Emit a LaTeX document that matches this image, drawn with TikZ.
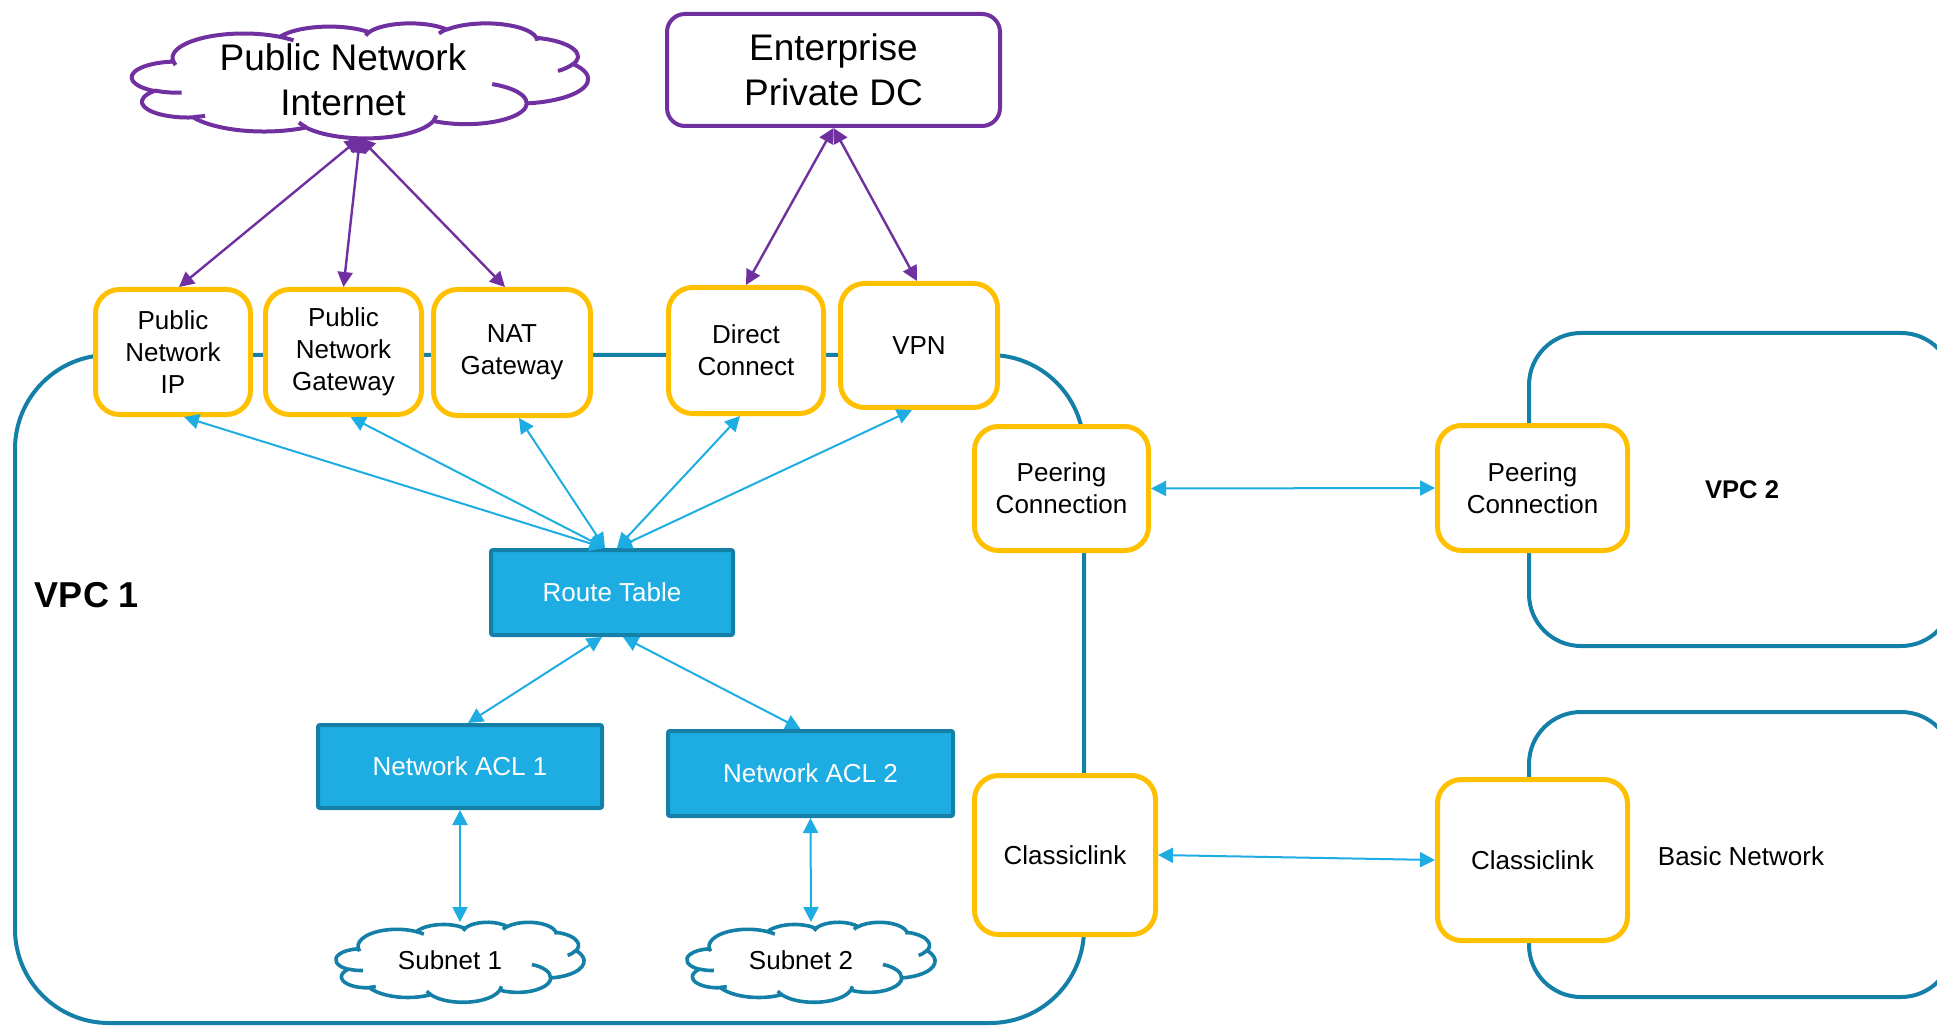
\documentclass[tikz,border=0pt]{standalone}
\usepackage{fontspec}
\setmainfont{Liberation Sans}
\usetikzlibrary{arrows.meta,calc}

\definecolor{vpurple}{RGB}{112,48,160}
\definecolor{vyellow}{RGB}{255,192,0}
\definecolor{vteal}{RGB}{20,128,168}
\definecolor{vblue}{RGB}{30,173,227}

\tikzset{
  gatebox/.style={draw=vyellow, line width=2.5pt, fill=white, rounded corners=12pt,
    align=center, inner sep=0pt, font=\fontsize{13}{16}\selectfont},
  tablebox/.style={draw=vteal, line width=2pt, fill=vblue, text=white, rounded corners=1pt,
    align=center, inner sep=0pt, font=\fontsize{13}{16}\selectfont},
  sitebox/.style={draw=vpurple, line width=2pt, fill=white, rounded corners=9pt,
    align=center, inner sep=0pt, font=\fontsize{18.5}{22.5}\selectfont},
  bigtext/.style={align=center, inner sep=0pt, font=\fontsize{18.5}{22.5}\selectfont},
  smalltext/.style={align=center, inner sep=0pt, font=\fontsize{13}{16}\selectfont},
  netframe/.style={draw=vteal, line width=2pt},
  cloudbox/.style={inner sep=0pt, outer sep=0pt},
  linktip/.tip={Triangle[length=7.5pt,width=7.5pt]},
  bluelink/.style={vblue, line width=1pt, linktip-linktip},
  purplelink/.style={vpurple, line width=1.2pt, linktip-linktip},
  % elliptical arc given by radii, start angle and sweep measured as seen on the ellipse
  earc/.style n args={4}{x radius=#1, y radius=#2,
    start angle={atan2(#1*sin(#3),#2*cos(#3))},
    delta angle={mod(atan2(#1*sin(#3+#4),#2*cos(#3+#4))-atan2(#1*sin(#3),#2*cos(#3))+720,360)}},
}

% cloud outline in a 432 x 432 box: #1,#2 top-left corner, #3 width, #4 height, #5 colour, #6 line width
\newcommand\netcloud[6]{%
  \begin{scope}[shift={(#1,#2)},xscale=#3/432,yscale=#4/432,line join=round]
    \draw[draw=#5, line width=#6, fill=white] (39,143.7)
      arc[earc={67.53}{91.90}{-190.4875}{123.7805}]
      arc[earc={53.33}{72.67}{-144.1024}{89.9452}]
      arc[earc={43.65}{59.45}{-145.8079}{99.7230}]
      arc[earc={48.57}{65.95}{-130.9861}{117.2417}]
      arc[earc={53.33}{72.73}{-78.7089}{109.0269}]
      arc[earc={67.75}{92.20}{-46.2673}{130.2690}]
      arc[earc={57.85}{78.67}{0.6250}{114.0333}]
      arc[earc={67.52}{92.15}{22.4516}{115.1726}]
      arc[earc={77.20}{105.43}{66.2426}{75.7110}]
      arc[earc={43.60}{59.18}{-274.9421}{146.7356}]
      arc[earc={43.45}{59.45}{-246.8285}{152.5189}]
      -- cycle;
    \draw[draw=#5, line width=#6]
      (46.93,261.77) arc[earc={43.45}{59.45}{86.7420}{26.4295}]
      (69.28,348.99) arc[earc={43.60}{59.18}{73.6105}{11.4475}]
      (164.78,390.90) arc[earc={67.52}{92.15}{137.6242}{14.0811}]
      (288.27,347.51) arc[earc={67.52}{92.15}{6.4533}{15.9984}]
      (341.29,229.54) arc[earc={57.85}{78.67}{-70.2924}{70.9174}]
      (417.98,153.54) arc[earc={53.33}{72.73}{30.3180}{27.7515}]
      (383.24,54.26) arc[earc={48.57}{65.95}{-13.7443}{14.8512}]
      (290.78,39.52) arc[earc={48.57}{65.95}{-149.1815}{18.1874}]
      (221.41,47.20) arc[earc={43.65}{59.45}{-163.4943}{17.6941}]
      (140.00,51.92) arc[earc={67.53}{91.90}{-66.7070}{12.3194}]
      (41.27,157.89) arc[earc={67.53}{91.90}{157.6544}{11.8582}];
  \end{scope}}

\begin{document}
\begin{tikzpicture}[x=0.5pt,y=-0.5pt]
  \useasboundingbox (0,0) rectangle (1937,1026);
  \clip (0,0) rectangle (1937,1026);

  % network frames
  \draw[netframe, rounded corners=47pt] (15,355) rectangle (1084,1023);
  \draw[netframe, rounded corners=26pt] (1529,333) rectangle (1953,646);
  \draw[netframe, rounded corners=26pt] (1529,712) rectangle (1953,997);

  % frame labels
  \node[inner sep=0pt, font=\fontsize{18}{22}\selectfont\bfseries] (vpc1) at (87,595) {VPC 1};
  \node[inner sep=0pt, font=\fontsize{12.8}{15}\selectfont\bfseries] (vpc2) at (1742,490) {VPC 2};
  \node[smalltext] (basic) at (1741,856) {Basic Network};

  % external sites
  \netcloud{132}{23}{456}{115}{vpurple}{2pt}
  \node[cloudbox, minimum width=228pt, minimum height=57.5pt] (inet) at (360,80.5) {};
  \node[bigtext] (inettext) at (343,80) {Public Network\\Internet};
  \node[sitebox, minimum width=166.5pt, minimum height=56pt] (dc) at (833.5,70) {Enterprise\\Private DC};

  % gateways on the VPC 1 edge
  \node[gatebox, minimum width=77.5pt, minimum height=62.5pt] (pnip) at (173,352) {Public\\Network\\IP};
  \node[gatebox, minimum width=78pt, minimum height=62.5pt] (png) at (343.5,352) {Public\\Network\\Gateway};
  \node[gatebox, minimum width=78.5pt, minimum height=63pt] (nat) at (512,352.5) {NAT\\Gateway};
  \node[gatebox, minimum width=77.5pt, minimum height=63pt] (dcx) at (746,350.5) {Direct\\Connect};
  \node[gatebox, minimum width=78.5pt, minimum height=62pt] (vpn) at (919,345.5) {VPN};
  \node[gatebox, minimum width=87pt, minimum height=62pt] (peerL) at (1061.5,488.5) {Peering\\Connection};
  \node[gatebox, minimum width=95pt, minimum height=62.5pt] (peerR) at (1532.5,488) {Peering\\Connection};
  \node[gatebox, minimum width=90.5pt, minimum height=79.5pt] (clL) at (1065,855) {Classiclink};
  \node[gatebox, minimum width=95pt, minimum height=80.5pt] (clR) at (1532.5,860) {Classiclink};

  % routing inside VPC 1
  \node[tablebox, minimum width=121pt, minimum height=42.5pt] (rt) at (612,592.5) {Route Table};
  \node[tablebox, minimum width=142pt, minimum height=41.5pt] (acl1) at (460,766.5) {Network ACL 1};
  \node[tablebox, minimum width=142.5pt, minimum height=42.5pt] (acl2) at (810.5,773.5) {Network ACL 2};

  % subnets
  \netcloud{336}{922}{248}{80}{vteal}{1.8pt}
  \node[cloudbox, minimum width=124pt, minimum height=40pt] (s1) at (460,962) {};
  \node[smalltext] (s1text) at (450,960) {Subnet 1};
  \netcloud{687}{922}{248}{80}{vteal}{1.8pt}
  \node[cloudbox, minimum width=124pt, minimum height=40pt] (s2) at (811,962) {};
  \node[smalltext] (s2text) at (801,960) {Subnet 2};

  % external links
  \draw[purplelink] (inet.south) -- ($(pnip.north)+(6,0)$);
  \draw[purplelink] (inet.south) -- (png.north);
  \draw[purplelink] (inet.south) -- ($(nat.north)+(-7,0)$);
  \draw[purplelink] (dc.south) -- (dcx.north);
  \draw[purplelink] (dc.south) -- ($(vpn.north)+(-2,0)$);

  % route table links
  \coordinate (rtl) at ($(rt.north)+(-7,0)$);
  \coordinate (rtr) at ($(rt.north)+(5,0)$);
  \draw[bluelink] (rtl) -- ($(pnip.south)+(11,0)$);
  \draw[bluelink] (rtl) -- ($(png.south)+(7,0)$);
  \draw[bluelink] (rtl) -- ($(nat.south)+(7,0)$);
  \draw[bluelink] (rtr) -- ($(dcx.south)+(-6,0)$);
  \draw[bluelink] (rtr) -- ($(vpn.south)+(-7,0)$);
  \draw[bluelink] ($(rt.south)+(-10,0)$) -- ($(acl1.north)+(8,0)$);
  \draw[bluelink] ($(rt.south)+(11,0)$) -- ($(acl2.north)+(-10,0)$);
  \draw[bluelink] (acl1.south) -- (s1.north);
  \draw[bluelink] (acl2.south) -- (s2.north);
  \draw[bluelink] (peerL.east) -- (peerR.west);
  \draw[bluelink] (clL.east) -- (clR.west);
\end{tikzpicture}
\end{document}
